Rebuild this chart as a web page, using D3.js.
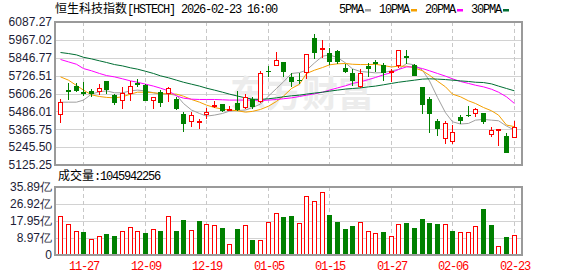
<!DOCTYPE html>
<html>
<head>
<meta charset="utf-8">
<script src="https://cdn.jsdelivr.net/npm/d3@7"></script>
<style>
  body { margin: 0; background: #fff; }
  svg text { font-family: "Liberation Sans", Arial, sans-serif; }
  .mono { font-family: "Liberation Mono", monospace; font-size: 12px; letter-spacing: -1.2px; }
  .cjk { font-family: "Noto Sans CJK SC", sans-serif; font-size: 12px; }
</style>
</head>
<body>
<div id="chart"></div>
<script>
// HSTECH daily k-line, 60 sessions
const dates = ["11-24","11-25","11-26","11-27","11-28","12-01","12-02","12-03","12-04","12-05",
  "12-08","12-09","12-10","12-11","12-12","12-15","12-16","12-17","12-18","12-19",
  "12-22","12-23","12-24","12-29","12-30","12-31","01-02","01-05","01-06","01-07",
  "01-08","01-09","01-12","01-13","01-14","01-15","01-16","01-19","01-20","01-21",
  "01-22","01-23","01-26","01-27","01-28","01-29","01-30","02-02","02-03","02-04",
  "02-05","02-06","02-09","02-10","02-11","02-12","02-13","02-16","02-20","02-23"];

const opens = [5459,5629,5656,5618,5622,5618,5689,5595,5553,5602,
  5674,5662,5559,5618,5606,5566,5468,5414,5405,5463,
  5517,5535,5495,5542,5512,5566,5551,5759,5794,5817,
  5714,5700,5747,5982,5902,5882,5893,5781,5741,5651,
  5794,5821,5801,5741,5792,5857,5797,5647,5568,5421,
  5298,5277,5450,5459,5465,5472,5325,5351,5322,5304];
const highs = [5566,5674,5674,5683,5636,5669,5689,5606,5647,5687,
  5707,5669,5584,5629,5651,5584,5481,5481,5432,5506,
  5555,5535,5521,5620,5602,5580,5759,5790,5884,5817,
  5745,5741,5871,6009,5965,5909,5902,5808,5768,5774,
  5812,5830,5812,5774,5902,5897,5808,5647,5584,5434,
  5418,5396,5461,5521,5512,5472,5378,5365,5338,5421];
const lows = [5410,5562,5615,5589,5580,5593,5606,5528,5504,5557,
  5651,5553,5504,5517,5551,5495,5349,5383,5369,5436,
  5506,5483,5490,5490,5504,5499,5544,5714,5794,5718,
  5651,5669,5705,5835,5848,5797,5803,5741,5656,5640,
  5714,5752,5691,5685,5781,5808,5723,5468,5342,5320,
  5266,5266,5401,5445,5450,5401,5311,5255,5208,5304];
const closes = [5548,5618,5624,5600,5603,5644,5631,5539,5611,5660,
  5665,5557,5580,5539,5640,5499,5401,5459,5421,5479,
  5526,5490,5504,5495,5580,5517,5741,5750,5830,5750,
  5685,5691,5871,5879,5915,5821,5815,5754,5691,5747,
  5768,5808,5745,5759,5902,5848,5727,5530,5468,5369,
  5405,5345,5423,5452,5499,5416,5360,5365,5208,5383];
// volume in 亿
const volumes = [20.8,16.5,12.8,12.0,8.6,10.2,10.9,9.9,12.8,15.0,
  12.8,11.4,13.9,12.8,20.8,12.8,18.3,13.4,17.8,16.5,
  16.0,14.1,6.0,13.5,16.0,7.7,8.1,17.6,22.3,19.9,
  20.4,17.1,31.0,28.7,33.4,20.9,17.2,13.5,15.1,17.6,
  12.8,11.8,12.0,10.2,16.5,16.7,14.1,18.8,16.7,16.2,
  16.5,12.5,12.3,12.3,15.5,24.1,15.7,4.9,9.3,10.46];

const ma5 = [5548,5548,5548,5562,5602,5618,5624,5611,5611,5624,
  5629,5624,5611,5602,5602,5595,5539,5495,5472,5454,
  5461,5472,5488,5492,5495,5512,5535,5589,5640,5685,
  5741,5747,5763,5812,5857,5866,5848,5812,5772,5754,
  5750,5745,5747,5759,5768,5808,5799,5763,5691,5580,
  5477,5416,5401,5405,5427,5432,5427,5423,5387,5360];
const ma10 = [5718,5696,5660,5629,5597,5586,5580,5577,5584,5602,
  5615,5615,5611,5606,5604,5602,5588,5566,5548,5528,
  5512,5501,5495,5490,5481,5486,5499,5521,5553,5589,
  5640,5669,5741,5763,5781,5799,5806,5808,5803,5801,
  5801,5803,5794,5785,5790,5790,5779,5759,5729,5689,
  5651,5602,5584,5557,5539,5512,5490,5461,5394,5383];
const ma20 = [5835,5819,5803,5774,5759,5741,5727,5718,5705,5691,
  5682,5669,5656,5642,5624,5590,5575,5568,5566,5566,
  5566,5564,5562,5562,5562,5562,5559,5562,5566,5571,
  5577,5586,5595,5604,5615,5629,5644,5658,5674,5685,
  5700,5714,5732,5747,5768,5785,5785,5774,5759,5741,
  5723,5705,5687,5674,5662,5651,5635,5615,5584,5539];
const ma30 = [5882,5875,5866,5850,5839,5826,5815,5801,5792,5779,
  5770,5756,5741,5725,5712,5696,5682,5669,5656,5642,
  5629,5615,5602,5589,5577,5568,5566,5571,5577,5584,
  5591,5595,5602,5609,5615,5622,5629,5636,5640,5644,
  5651,5656,5665,5674,5682,5689,5696,5703,5705,5703,
  5700,5696,5691,5687,5682,5680,5671,5656,5640,5624];

const priceTicks = [6087.27,5967.02,5846.77,5726.51,5606.26,5486.01,5365.75,5245.50,5125.25];
const volTicks = [35.89,26.92,17.95,8.97,0];
const volTickLabels = ["35.89亿","26.92亿","17.95亿","8.97亿","0"];
const xLabelDates = ["11-27","12-09","12-19","01-05","01-15","01-27","02-06","02-23"];
const maNames = ["5PMA","10PMA","20PMA","30PMA"];
const title = {name: "恒生科技指数", rest: "[HSTECH] 2026-02-23 16:00"};
const lastVolume = "1045942256";

const WIDTH = 578, HEIGHT = 276;
const PLOT = {left: 55, right: 522};
const MAIN = {top: 22, bottom: 165};
const VOLP = {top: 187, bottom: 255};
const RED = "#ff0000", GREEN = "#008000";
const maColors = ["#a0a0a0", "#f5a000", "#ff00ff", "#006e33"];

const svg = d3.select("#chart").append("svg")
  .attr("width", WIDTH).attr("height", HEIGHT);

const X = d3.scaleBand().domain(dates).range([56.5, 517.6]);
const cx = (d) => Math.round(X(d) + X.bandwidth() / 2);
const Y = d3.scaleLinear().domain([5125.25, 6087.27]).range([MAIN.bottom, MAIN.top]);
const VY = d3.scaleLinear().domain([0, 35.89]).range([VOLP.bottom, VOLP.top]);

// grid
const grid = svg.append("g");
grid.selectAll(".hg").data(priceTicks.slice(1, -1)).enter().append("line")
  .attr("x1", PLOT.left).attr("x2", PLOT.right)
  .attr("y1", d => Math.round(Y(d)) + 0.5).attr("y2", d => Math.round(Y(d)) + 0.5)
  .attr("stroke", "#d2d2d2");
grid.selectAll(".vg").data(volTicks.slice(1, -1)).enter().append("line")
  .attr("x1", PLOT.left).attr("x2", PLOT.right)
  .attr("y1", d => Math.round(VY(d)) + 0.5).attr("y2", d => Math.round(VY(d)) + 0.5)
  .attr("stroke", "#d2d2d2");
[MAIN, VOLP].forEach(p => {
  grid.selectAll(null).data(xLabelDates).enter().append("line")
    .attr("x1", d => cx(d) + 0.5).attr("x2", d => cx(d) + 0.5)
    .attr("y1", p.top).attr("y2", p.bottom)
    .attr("stroke", "#c8c8c8").attr("stroke-dasharray", "4,3");
});

// watermark
svg.append("text").attr("x", 230).attr("y", 107)
  .attr("class", "cjk").style("font-size", "36px").style("font-weight", "bold")
  .attr("fill", "#ececec").text("东方财富");

// moving averages
const mas = [ma5, ma10, ma20, ma30];
mas.forEach((arr, k) => {
  svg.append("path")
    .attr("d", d3.line().x((v, i) => cx(dates[i]) + 0.5).y(v => Y(v))(arr))
    .attr("fill", "none").attr("stroke", maColors[k]).attr("stroke-width", 1);
});

// candles
const candles = svg.append("g").selectAll("g").data(dates).enter().append("g");
candles.each(function (d, i) {
  const g = d3.select(this);
  const up = closes[i] > opens[i] || (closes[i] === opens[i] && (i === 0 || closes[i] >= closes[i - 1]));
  const col = up ? RED : GREEN;
  const x = cx(d);
  g.append("line").attr("x1", x + 0.5).attr("x2", x + 0.5)
    .attr("y1", Math.round(Y(highs[i]))).attr("y2", Math.round(Y(lows[i])))
    .attr("stroke", col);
  const yTop = Math.round(Y(Math.max(opens[i], closes[i])));
  const yBot = Math.round(Y(Math.min(opens[i], closes[i])));
  if (up) {
    g.append("rect").attr("x", x - 1.5).attr("y", yTop + 0.5)
      .attr("width", 4).attr("height", Math.max(1, yBot - yTop - 1))
      .attr("fill", "#fff").attr("stroke", col);
  } else {
    g.append("rect").attr("x", x - 2).attr("y", yTop)
      .attr("width", 5).attr("height", Math.max(1, yBot - yTop))
      .attr("fill", col);
  }
});

// volume bars, coloured against previous close
svg.append("g").selectAll("g").data(dates).enter().append("g").each(function (d, i) {
  const up = i === 0 ? closes[i] >= opens[i] : closes[i] >= closes[i - 1];
  const x = cx(d);
  const top = Math.round(VY(volumes[i]));
  if (up) {
    d3.select(this).append("rect").attr("x", x - 1.5).attr("y", top + 0.5)
      .attr("width", 4).attr("height", VOLP.bottom - top - 1)
      .attr("fill", "#fff").attr("stroke", RED);
  } else {
    d3.select(this).append("rect").attr("x", x - 2).attr("y", top)
      .attr("width", 5).attr("height", VOLP.bottom - top)
      .attr("fill", GREEN);
  }
});

// frames
[MAIN, VOLP].forEach(p => {
  svg.append("rect").attr("x", PLOT.left).attr("y", p.top)
    .attr("width", PLOT.right - PLOT.left).attr("height", p.bottom - p.top)
    .attr("fill", "none").attr("stroke", "#9a9a9a").attr("stroke-width", 2);
});

// y axis labels
svg.selectAll(".pl").data(priceTicks).enter().append("text")
  .attr("x", 52).attr("y", d => Y(d)).attr("dy", "0.36em")
  .attr("text-anchor", "end").style("font-size", "12px").attr("fill", "#1c1c36")
  .text(d => d.toFixed(2));
svg.selectAll(".vl").data(volTicks).enter().append("text")
  .attr("x", 52).attr("y", d => VY(d)).attr("dy", "0.36em")
  .attr("text-anchor", "end").style("font-size", "12px").attr("fill", "#1c1c36")
  .text((d, i) => volTickLabels[i]);

// x labels
svg.selectAll(".xl").data(xLabelDates).enter().append("text")
  .attr("class", "mono").attr("x", d => cx(d) + 1).attr("y", 270)
  .attr("text-anchor", "middle").attr("fill", RED).text(d => d);

// title
const t = svg.append("text").attr("x", 55).attr("y", 13).attr("fill", "#000");
t.append("tspan").attr("class", "cjk").text(title.name);
t.append("tspan").attr("class", "mono").text(title.rest);

// volume caption
const vc = svg.append("text").attr("x", 58).attr("y", 180).attr("fill", "#000");
vc.append("tspan").attr("class", "cjk").text("成交量");
vc.append("tspan").attr("class", "mono").text(":" + lastVolume);

// legend
let lx = 339;
maNames.forEach((name, k) => {
  svg.append("text").attr("class", "mono").attr("x", lx).attr("y", 13)
    .attr("fill", "#000").text(name);
  const w = name.length * 6;
  svg.append("rect").attr("x", lx + w + 2).attr("y", 9)
    .attr("width", 6).attr("height", 2.5).attr("fill", maColors[k]);
  lx += w + 16;
});
</script>
</body>
</html>
